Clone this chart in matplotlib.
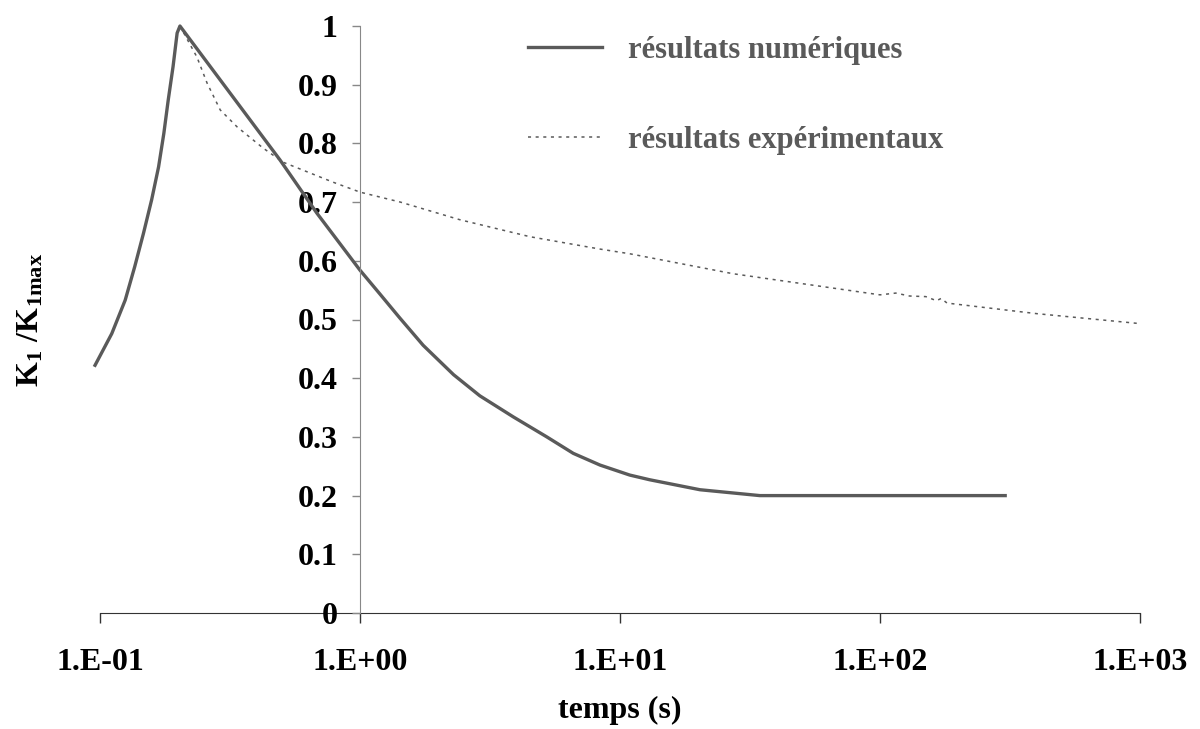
import matplotlib
matplotlib.use("Agg")
import matplotlib.pyplot as plt
from matplotlib.ticker import FixedLocator, FixedFormatter

plt.rcParams['font.family'] = ['Liberation Serif', 'DejaVu Serif']
plt.rcParams['font.weight'] = 'bold'
plt.rcParams['mathtext.fontset'] = 'custom'
plt.rcParams['mathtext.rm'] = 'Liberation Serif:bold'
plt.rcParams['mathtext.bf'] = 'Liberation Serif:bold'
plt.rcParams['mathtext.it'] = 'Liberation Serif:bold'

# résultats numériques (temps en s, K1/K1max)
t_num = [0.0957, 0.111, 0.125, 0.136, 0.147, 0.158, 0.168, 0.176, 0.183, 0.191,
         0.198, 0.203, 0.492, 0.683, 1.0, 1.19, 1.42, 1.75, 2.29, 2.89, 3.89,
         5.23, 6.61, 8.38, 10.9, 13.0, 20.3, 34.5, 303]
k_num = [0.422, 0.476, 0.533, 0.590, 0.647, 0.704, 0.760, 0.817, 0.874, 0.931,
         0.988, 1.0, 0.772, 0.681, 0.584, 0.544, 0.503, 0.456, 0.406, 0.370, 0.334,
         0.300, 0.272, 0.252, 0.235, 0.227, 0.210, 0.200, 0.200]

# résultats expérimentaux
t_exp = [0.203, 0.236, 0.258, 0.290, 0.337, 0.424, 0.506, 0.787, 1.0, 1.43,
         2.42, 4.51, 8.37, 10.9, 27.2, 100, 115, 130, 150, 165, 172, 181, 400, 1000]
k_exp = [1.0, 0.947, 0.903, 0.857, 0.828, 0.792, 0.768, 0.734, 0.717, 0.700,
         0.670, 0.641, 0.620, 0.612, 0.578, 0.542, 0.545, 0.540, 0.539, 0.532,
         0.536, 0.528, 0.510, 0.493]

x_ticks = [0.1, 1, 10, 100, 1000]
x_labels = ['1.E-01', '1.E+00', '1.E+01', '1.E+02', '1.E+03']
y_ticks = [0, 0.1, 0.2, 0.3, 0.4, 0.5, 0.6, 0.7, 0.8, 0.9, 1]
y_labels = ['0', '0.1', '0.2', '0.3', '0.4', '0.5', '0.6', '0.7', '0.8', '0.9', '1']

line_col = '#5a5a5a'

fig = plt.figure(figsize=(12, 7.29), dpi=100)
ax = fig.add_axes([100 / 1200, 116 / 729, 1040 / 1200, 587 / 729])

ax.plot(t_num, k_num, color=line_col, lw=2.4, clip_on=False,
        label='résultats numériques')
ax.plot(t_exp, k_exp, color=line_col, lw=1.1, ls=(0, (2, 3)), clip_on=False,
        label='résultats expérimentaux')

ax.set_xscale('log')
ax.set_xlim(0.1, 1000)
ax.set_ylim(0, 1)

ax.xaxis.set_major_locator(FixedLocator(x_ticks))
ax.xaxis.set_major_formatter(FixedFormatter(x_labels))
ax.xaxis.set_minor_locator(FixedLocator([]))
ax.yaxis.set_major_locator(FixedLocator(y_ticks))
ax.yaxis.set_major_formatter(FixedFormatter(y_labels))

for s in ['top', 'right']:
    ax.spines[s].set_visible(False)
ax.spines['left'].set_position(('data', 1))
ax.spines['left'].set_color('#888888')
ax.spines['bottom'].set_color('#333333')
ax.spines['bottom'].set_zorder(0)

ax.tick_params(axis='x', direction='out', length=7, width=1, color='#333333',
               pad=18, labelsize=23)
ax.tick_params(axis='y', direction='out', length=6, width=1, color='#888888',
               pad=10, labelsize=23)

ax.set_xlabel('temps (s)', fontsize=23, fontweight='bold', labelpad=14)
ax.set_ylabel(r'$\mathbf{K_1\ /K_{1max}}$', fontsize=23)
ax.yaxis.set_label_coords(-0.052, 0.5)

leg = ax.legend(loc='upper left', bbox_to_anchor=(400 / 1040, 1.03), frameon=False,
                fontsize=22, handlelength=2.45, handletextpad=0.85, labelspacing=2.0)
for txt in leg.get_texts():
    txt.set_color(line_col)

fig.savefig('out.png', dpi=100)
